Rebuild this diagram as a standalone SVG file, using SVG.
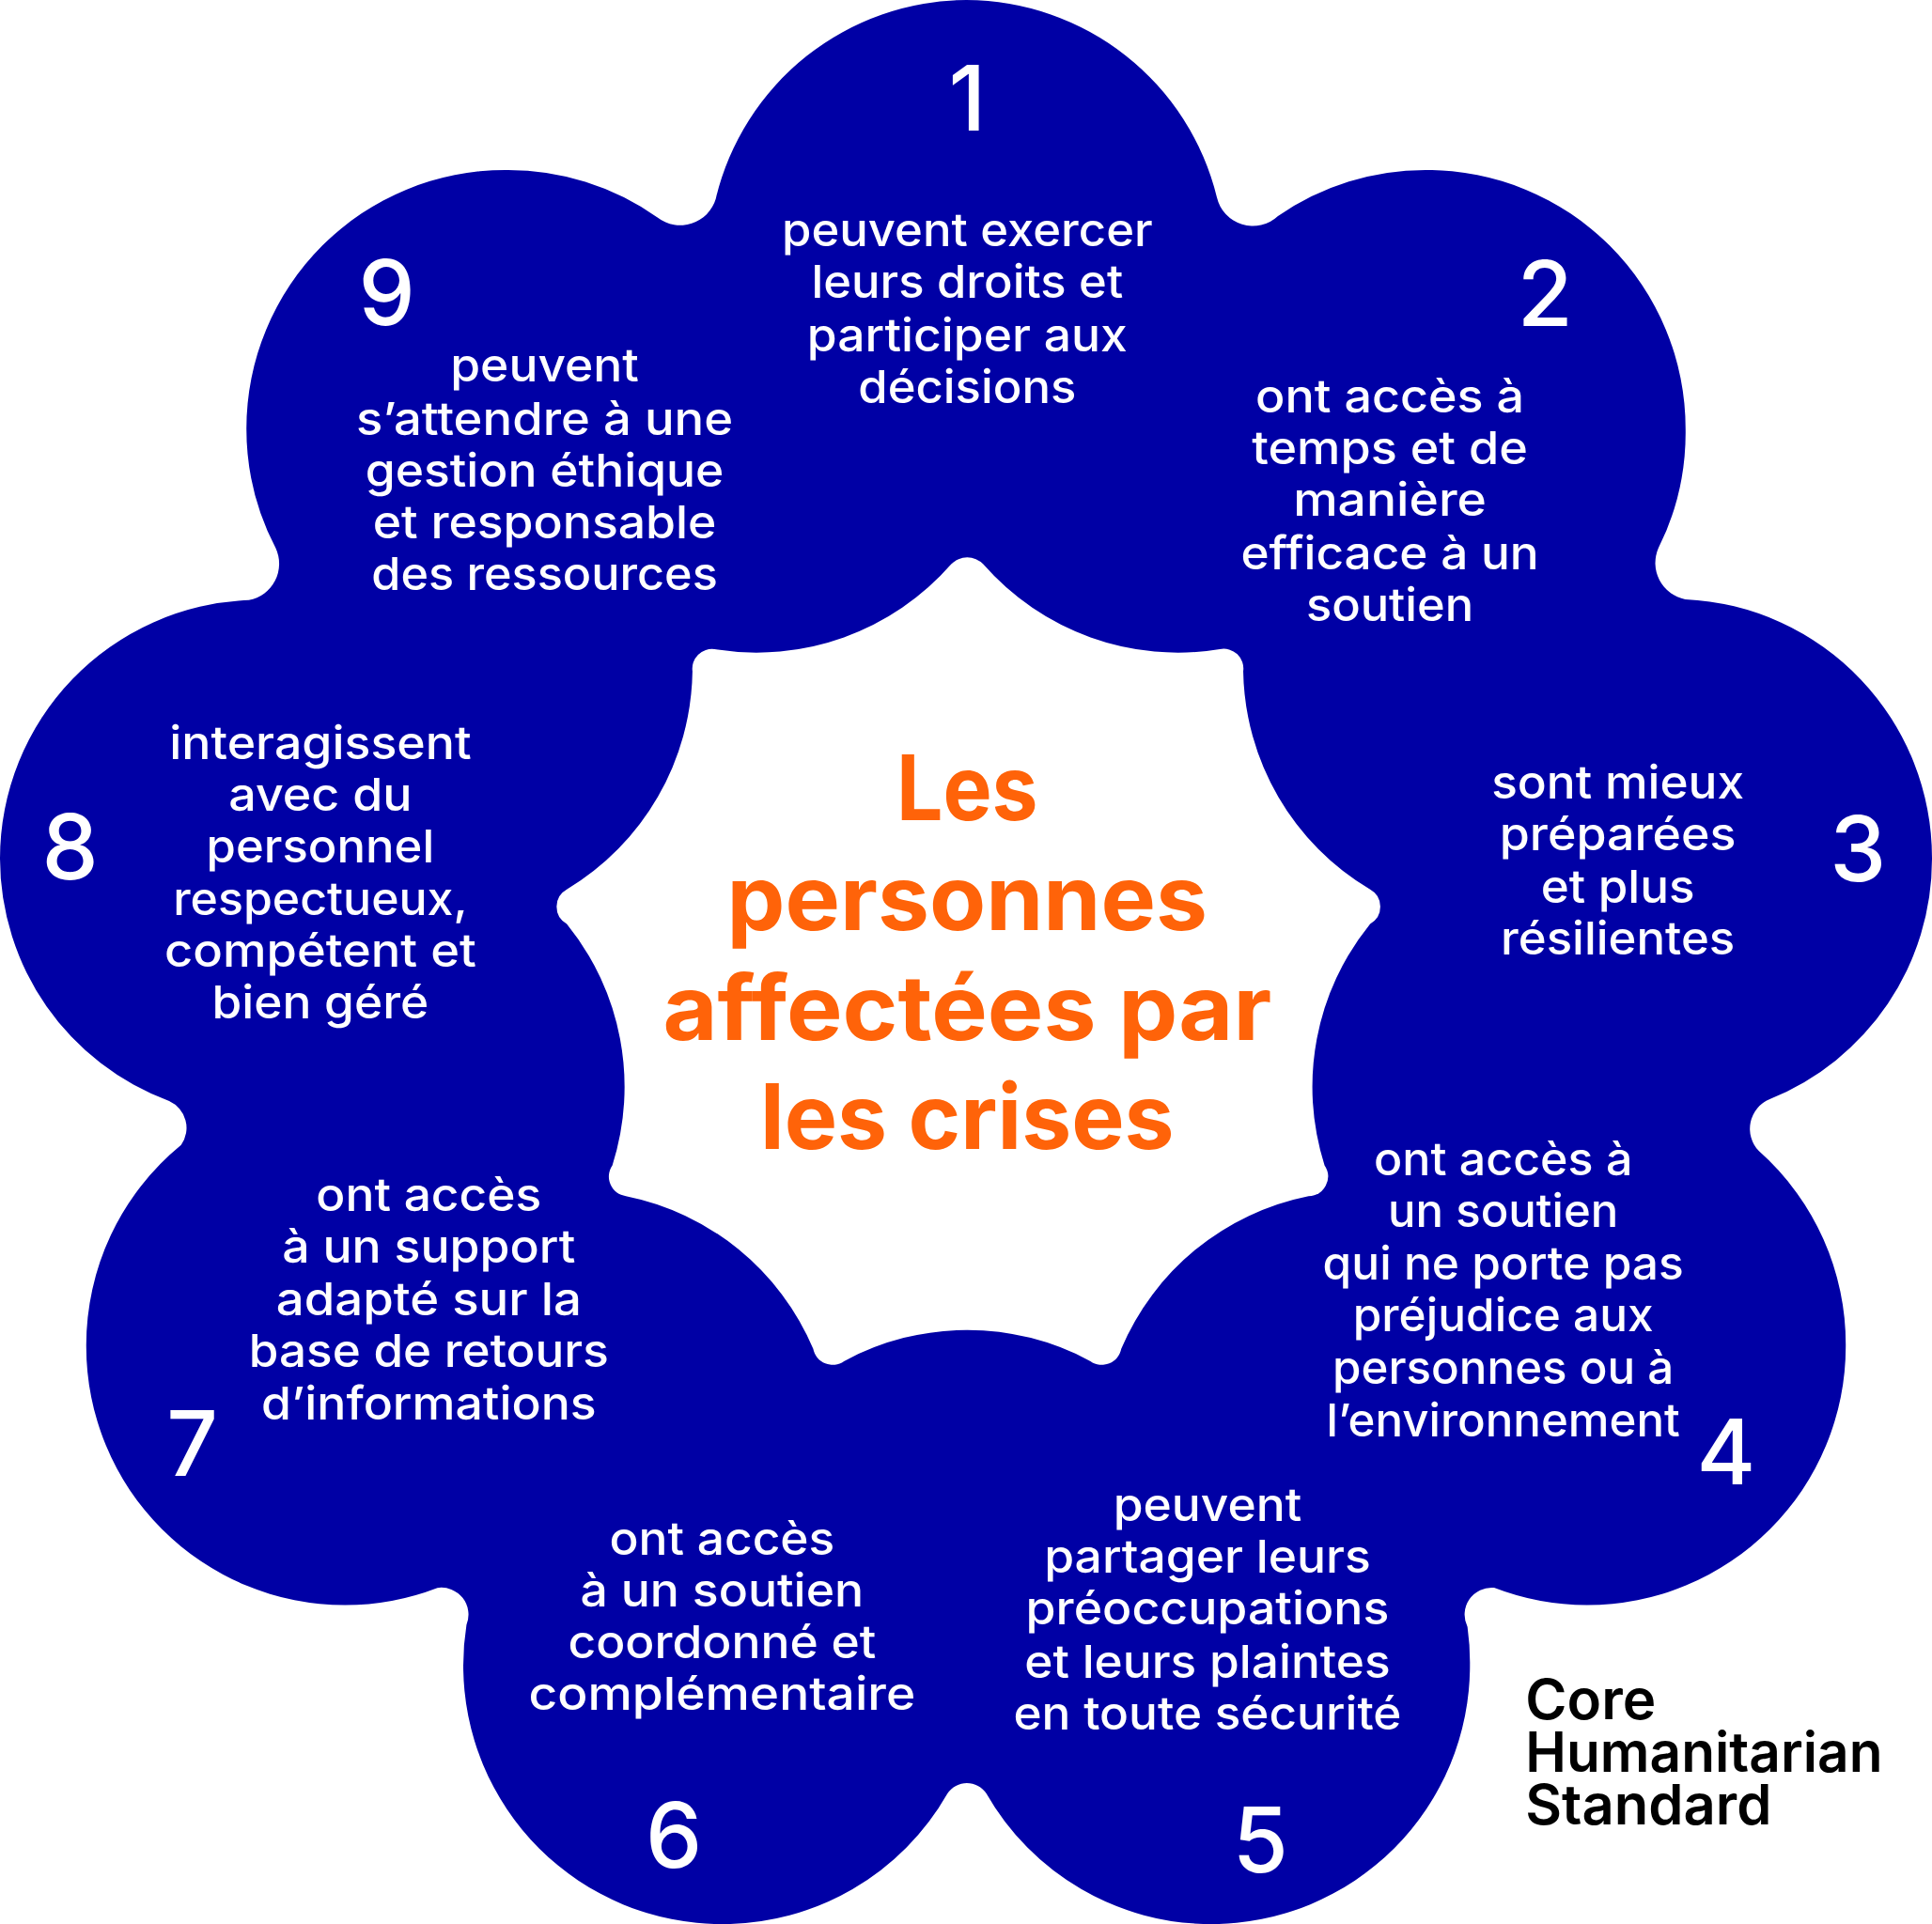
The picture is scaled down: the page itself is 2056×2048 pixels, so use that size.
<svg xmlns="http://www.w3.org/2000/svg" width="2056" height="2048" viewBox="0 0 2056 2048">
<style>
text{font-family:"Inter","Noto Sans","Liberation Sans",sans-serif;text-anchor:middle}
.t{fill:#fff;font-size:37px;font-weight:500}
.n{fill:#fff;font-size:73px;font-weight:500}
.h{fill:#FF6309;font-size:73px;font-weight:700}
.l{fill:#000;font-size:45px;font-weight:600;text-anchor:start}
</style>
<rect width="2056" height="2048" fill="#fff"/>
<g transform="scale(1.31122)">
<g id="flower">
<path fill="#0000A5" fill-rule="evenodd" d="M580.9,161.4 A210,210 0 0 1 784.5,0 A210,210 0 0 1 987.6,160.2 A30,30 0 0 0 1037.2,175.4 A210,210 0 0 1 1158,138 A210,210 0 0 1 1368,348 A210,210 0 0 1 1346,444.9 A30,30 0 0 0 1367.7,486.5 A210,210 0 0 1 1568,697 A210,210 0 0 1 1436.3,892.3 A26,26 0 0 0 1427.4,934.3 A210,210 0 0 1 1498,1093 A210,210 0 0 1 1288,1303 A210,210 0 0 1 1212.6,1288.9 A22,22 0 0 0 1191,1320.7 A210,210 0 0 1 1193,1352 A210,210 0 0 1 983,1562 A210,210 0 0 1 800.5,1455.9 A19,19 0 0 0 769,1455.9 A210,210 0 0 1 586,1562 A210,210 0 0 1 376,1352 A210,210 0 0 1 378.6,1319 A22,22 0 0 0 355,1289 A210,210 0 0 1 280,1303 A210,210 0 0 1 70,1093 A210,210 0 0 1 147,929.5 A24,24 0 0 0 137.3,893.8 A210,210 0 0 1 0,697 A210,210 0 0 1 202,487.2 A30,30 0 0 0 223.7,444.9 A210,210 0 0 1 200,348 A210,210 0 0 1 410,138 A210,210 0 0 1 533.9,176.7 A30,30 0 0 0 580.9,161.4 Z
M798,458 A210,210 0 0 0 990,527 A16,16 0 0 1 1009,545 A210,210 0 0 0 1112,722 A16,16 0 0 1 1112,750 A210,210 0 0 0 1075,946 A16,16 0 0 1 1062,971 A210,210 0 0 0 910,1095 A16,16 0 0 1 885,1105 A210,210 0 0 0 685,1105 A16,16 0 0 1 660,1095 A210,210 0 0 0 508,971 A16,16 0 0 1 497,946 A210,210 0 0 0 460,750 A16,16 0 0 1 460,722 A210,210 0 0 0 562,545 A16,16 0 0 1 580,527 A210,210 0 0 0 772,458 A18,18 0 0 1 798,458 Z"/>
</g>
<g id="center">
<text class="h" x="785" y="666" textLength="115" lengthAdjust="spacingAndGlyphs">Les</text>
<text class="h" x="785" y="755" textLength="390" lengthAdjust="spacingAndGlyphs">personnes</text>
<text class="h" x="785" y="844" textLength="494" lengthAdjust="spacingAndGlyphs">affectées par</text>
<text class="h" x="785" y="933" textLength="336" lengthAdjust="spacingAndGlyphs">les crises</text>
</g>
<g id="node-1">
<text class="n" x="785" y="106">1</text>
<text class="t" x="785" y="200" textLength="301" lengthAdjust="spacingAndGlyphs">peuvent exercer</text>
<text class="t" x="785" y="242" textLength="253" lengthAdjust="spacingAndGlyphs">leurs droits et</text>
<text class="t" x="785" y="285" textLength="260" lengthAdjust="spacingAndGlyphs">participer aux</text>
<text class="t" x="785" y="327" textLength="177" lengthAdjust="spacingAndGlyphs">décisions</text>
</g>
<g id="node-2">
<text class="n" x="1254" y="265">2</text>
<text class="t" x="1128" y="335" textLength="218" lengthAdjust="spacingAndGlyphs">ont accès à</text>
<text class="t" x="1128" y="377" textLength="224" lengthAdjust="spacingAndGlyphs">temps et de</text>
<text class="t" x="1128" y="419" textLength="157" lengthAdjust="spacingAndGlyphs">manière</text>
<text class="t" x="1128" y="462" textLength="242" lengthAdjust="spacingAndGlyphs">efficace à un</text>
<text class="t" x="1128" y="504" textLength="136" lengthAdjust="spacingAndGlyphs">soutien</text>
</g>
<g id="node-3">
<text class="n" x="1508" y="715">3</text>
<text class="t" x="1313" y="648" textLength="205" lengthAdjust="spacingAndGlyphs">sont mieux</text>
<text class="t" x="1313" y="690" textLength="192" lengthAdjust="spacingAndGlyphs">préparées</text>
<text class="t" x="1313" y="733" textLength="125" lengthAdjust="spacingAndGlyphs">et plus</text>
<text class="t" x="1313" y="775" textLength="190" lengthAdjust="spacingAndGlyphs">résilientes</text>
</g>
<g id="node-4">
<text class="n" x="1401" y="1205">4</text>
<text class="t" x="1220" y="954" textLength="210" lengthAdjust="spacingAndGlyphs">ont accès à</text>
<text class="t" x="1220" y="996" textLength="187" lengthAdjust="spacingAndGlyphs">un soutien</text>
<text class="t" x="1220" y="1039" textLength="293" lengthAdjust="spacingAndGlyphs">qui ne porte pas</text>
<text class="t" x="1220" y="1081" textLength="244" lengthAdjust="spacingAndGlyphs">préjudice aux</text>
<text class="t" x="1220" y="1123" textLength="277" lengthAdjust="spacingAndGlyphs">personnes ou à</text>
<text class="t" x="1220" y="1166" textLength="287" lengthAdjust="spacingAndGlyphs">l’environnement</text>
</g>
<g id="node-5">
<text class="n" x="1023" y="1520">5</text>
<text class="t" x="980" y="1235" textLength="153" lengthAdjust="spacingAndGlyphs">peuvent</text>
<text class="t" x="980" y="1277" textLength="265" lengthAdjust="spacingAndGlyphs">partager leurs</text>
<text class="t" x="980" y="1319" textLength="295" lengthAdjust="spacingAndGlyphs">préoccupations</text>
<text class="t" x="980" y="1362" textLength="297" lengthAdjust="spacingAndGlyphs">et leurs plaintes</text>
<text class="t" x="980" y="1404" textLength="315" lengthAdjust="spacingAndGlyphs">en toute sécurité</text>
</g>
<g id="node-6">
<text class="n" x="547" y="1516">6</text>
<text class="t" x="586" y="1262" textLength="183" lengthAdjust="spacingAndGlyphs">ont accès</text>
<text class="t" x="586" y="1304" textLength="230" lengthAdjust="spacingAndGlyphs">à un soutien</text>
<text class="t" x="586" y="1346" textLength="250" lengthAdjust="spacingAndGlyphs">coordonné et</text>
<text class="t" x="586" y="1388" textLength="314" lengthAdjust="spacingAndGlyphs">complémentaire</text>
</g>
<g id="node-7">
<text class="n" x="156" y="1198">7</text>
<text class="t" x="348" y="983" textLength="183" lengthAdjust="spacingAndGlyphs">ont accès</text>
<text class="t" x="348" y="1025" textLength="238" lengthAdjust="spacingAndGlyphs">à un support</text>
<text class="t" x="348" y="1068" textLength="248" lengthAdjust="spacingAndGlyphs">adapté sur la</text>
<text class="t" x="348" y="1110" textLength="292" lengthAdjust="spacingAndGlyphs">base de retours</text>
<text class="t" x="348" y="1152" textLength="272" lengthAdjust="spacingAndGlyphs">d’informations</text>
</g>
<g id="node-8">
<text class="n" x="57" y="714">8</text>
<text class="t" x="260" y="616" textLength="245" lengthAdjust="spacingAndGlyphs">interagissent</text>
<text class="t" x="260" y="658" textLength="149" lengthAdjust="spacingAndGlyphs">avec du</text>
<text class="t" x="260" y="700" textLength="185" lengthAdjust="spacingAndGlyphs">personnel</text>
<text class="t" x="260" y="743" textLength="239" lengthAdjust="spacingAndGlyphs">respectueux,</text>
<text class="t" x="260" y="785" textLength="253" lengthAdjust="spacingAndGlyphs">compétent et</text>
<text class="t" x="260" y="827" textLength="176" lengthAdjust="spacingAndGlyphs">bien géré</text>
</g>
<g id="node-9">
<text class="n" x="314" y="264">9</text>
<text class="t" x="442" y="310" textLength="153" lengthAdjust="spacingAndGlyphs">peuvent</text>
<text class="t" x="442" y="353" textLength="306" lengthAdjust="spacingAndGlyphs">s’attendre à une</text>
<text class="t" x="442" y="395" textLength="291" lengthAdjust="spacingAndGlyphs">gestion éthique</text>
<text class="t" x="442" y="437" textLength="279" lengthAdjust="spacingAndGlyphs">et responsable</text>
<text class="t" x="442" y="479" textLength="281" lengthAdjust="spacingAndGlyphs">des ressources</text>
</g>
<g id="logo">
<text class="l" x="1238" y="1396" textLength="106" lengthAdjust="spacingAndGlyphs">Core</text>
<text class="l" x="1238" y="1438" textLength="290" lengthAdjust="spacingAndGlyphs">Humanitarian</text>
<text class="l" x="1238" y="1481" textLength="200" lengthAdjust="spacingAndGlyphs">Standard</text>
</g>
</g>
</svg>
